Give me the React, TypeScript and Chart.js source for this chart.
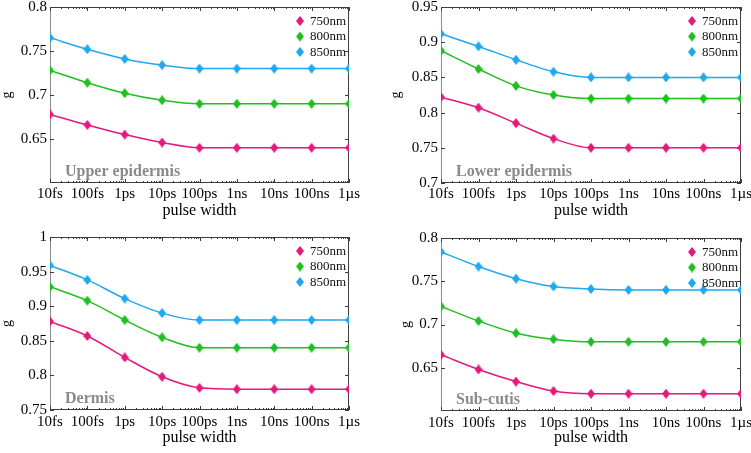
import React, { useEffect, useRef } from 'react';
import { Chart, registerables } from 'chart.js';

Chart.register(...registerables);

const FONT = '"Liberation Serif", "Times New Roman", serif';

const X_LABELS = ['10fs', '100fs', '1ps', '10ps', '100ps', '1ns', '10ns', '100ns', '1µs'];
const SERIES_NAMES = ['750nm', '800nm', '850nm'];
const SERIES_COLORS = ['#e6187c', '#1fbf1f', '#1ea8ef'];

// Upper epidermis
const upper750 = [0.678, 0.666, 0.655, 0.646, 0.640, 0.640, 0.640, 0.640, 0.640];
const upper800 = [0.728, 0.714, 0.702, 0.694, 0.690, 0.690, 0.690, 0.690, 0.690];
const upper850 = [0.765, 0.752, 0.741, 0.734, 0.730, 0.730, 0.730, 0.730, 0.730];
const upperTicks = [0.65, 0.7, 0.75, 0.8];

// Lower epidermis
const lower750 = [0.822, 0.807, 0.785, 0.763, 0.750, 0.750, 0.750, 0.750, 0.750];
const lower800 = [0.888, 0.862, 0.838, 0.825, 0.820, 0.820, 0.820, 0.820, 0.820];
const lower850 = [0.912, 0.894, 0.875, 0.858, 0.850, 0.850, 0.850, 0.850, 0.850];
const lowerTicks = [0.7, 0.75, 0.8, 0.85, 0.9, 0.95];

// Dermis
const dermis750 = [0.878, 0.857, 0.826, 0.798, 0.782, 0.780, 0.780, 0.780, 0.780];
const dermis800 = [0.928, 0.908, 0.880, 0.855, 0.840, 0.840, 0.840, 0.840, 0.840];
const dermis850 = [0.959, 0.938, 0.911, 0.890, 0.880, 0.880, 0.880, 0.880, 0.880];
const dermisTicks = [0.75, 0.8, 0.85, 0.9, 0.95, 1];

// Sub-cutis
const sub750 = [0.665, 0.648, 0.634, 0.623, 0.620, 0.620, 0.620, 0.620, 0.620];
const sub800 = [0.721, 0.704, 0.690, 0.683, 0.680, 0.680, 0.680, 0.680, 0.680];
const sub850 = [0.784, 0.767, 0.753, 0.744, 0.741, 0.740, 0.740, 0.740, 0.740];
const subTicks = [0.65, 0.7, 0.75, 0.8];

type PanelDef = {
  title: string;
  series: number[][];
  yMin: number;
  yMax: number;
  yTicks: number[];
  left: number;
  top: number;
  w: number;
  h: number;
  area: { l: number; t: number; r: number; b: number };
  gX: number;
  xPad: number;
};

const PANELS: PanelDef[] = [
  { title: 'Upper epidermis', series: [upper750, upper800, upper850], yMin: 0.6, yMax: 0.8, yTicks: upperTicks,
    left: 0, top: 0, w: 375, h: 226, area: { l: 50, t: 7, r: 349, b: 183 }, gX: 7, xPad: 2 },
  { title: 'Lower epidermis', series: [lower750, lower800, lower850], yMin: 0.7, yMax: 0.95, yTicks: lowerTicks,
    left: 375, top: 0, w: 376, h: 226, area: { l: 66, t: 7, r: 366, b: 183 }, gX: 21, xPad: 2 },
  { title: 'Dermis', series: [dermis750, dermis800, dermis850], yMin: 0.75, yMax: 1, yTicks: dermisTicks,
    left: 0, top: 226, w: 375, h: 227, area: { l: 50, t: 11, r: 349, b: 184 }, gX: 7, xPad: 3 },
  { title: 'Sub-cutis', series: [sub750, sub800, sub850], yMin: 0.6, yMax: 0.8, yTicks: subTicks,
    left: 375, top: 226, w: 376, h: 227, area: { l: 66, t: 12, r: 366, b: 185 }, gX: 31, xPad: 3 },
];

function makeDiamond(color: string): HTMLCanvasElement {
  const c = document.createElement('canvas');
  c.width = 8;
  c.height = 10;
  const ctx = c.getContext('2d')!;
  ctx.fillStyle = color;
  ctx.beginPath();
  ctx.moveTo(4, 0);
  ctx.lineTo(8, 5);
  ctx.lineTo(4, 10);
  ctx.lineTo(0, 5);
  ctx.closePath();
  ctx.fill();
  return c;
}

function Panel({ def }: { def: PanelDef }) {
  const ref = useRef<HTMLCanvasElement>(null);

  useEffect(() => {
    const canvas = ref.current!;
    const markers = SERIES_COLORS.map(makeDiamond);

    const framePlugin = {
      id: 'frame' + def.title.replace(/\W/g, ''),
      beforeDatasetsDraw(chart: any) {
        const { ctx, chartArea } = chart;
        const { left, top, right, bottom } = chartArea;
        const xs = chart.scales.x;
        const ys = chart.scales.y;
        const line = (x1: number, y1: number, x2: number, y2: number) => {
          ctx.beginPath();
          ctx.moveTo(x1, y1);
          ctx.lineTo(x2, y2);
          ctx.stroke();
        };
        ctx.save();
        ctx.lineWidth = 1;
        ctx.strokeStyle = '#3c3c3c';
        line(left, top + 0.5, right, top + 0.5);
        line(right - 0.5, top, right - 0.5, bottom);
        line(left, bottom - 0.5, right, bottom - 0.5);
        ctx.strokeStyle = '#8c8c8c';
        line(left + 0.5, top, left + 0.5, bottom);
        ctx.strokeStyle = '#3c3c3c';
        def.yTicks.forEach((t) => {
          const py = Math.round(ys.getPixelForValue(t)) + 0.5;
          line(left, py, left + 4, py);
          line(right - 4, py, right, py);
        });
        X_LABELS.forEach((_, i) => {
          const px = Math.round(xs.getPixelForValue(i)) + 0.5;
          line(px, bottom, px, bottom - 4);
          line(px, top, px, top + 4);
          if (i < X_LABELS.length - 1) {
            for (let k = 2; k <= 9; k++) {
              const mx = Math.round(xs.getPixelForValue(i + Math.log10(k))) + 0.5;
              line(mx, bottom, mx, bottom - 2);
              line(mx, top, mx, top + 2);
            }
          }
        });
        ctx.restore();
      },
      afterDatasetsDraw(chart: any) {
        const { ctx, chartArea } = chart;
        const { left, top, right, bottom } = chartArea;
        ctx.save();
        // legend
        const rows = [14, 29.5, 45];
        ctx.font = `13px ${FONT}`;
        ctx.textAlign = 'left';
        ctx.textBaseline = 'middle';
        ctx.fillStyle = '#111';
        SERIES_NAMES.forEach((name, i) => {
          const y = top + rows[i];
          const m = markers[i];
          ctx.drawImage(m, right - 49 - m.width / 2, y - m.height / 2);
          ctx.fillText(name, right - 39, y + 0.5);
        });
        // panel annotation
        ctx.font = `bold 16px ${FONT}`;
        ctx.fillStyle = '#8a8a8a';
        ctx.fillText(def.title, left + 15, bottom - 11);
        ctx.restore();
      },
    };

    const chart = new Chart(canvas, {
      type: 'line',
      data: {
        datasets: def.series.map((vals, i) => ({
          label: SERIES_NAMES[i],
          data: vals.map((v, j) => ({ x: j, y: v })),
          borderColor: SERIES_COLORS[i],
          backgroundColor: SERIES_COLORS[i],
          borderWidth: 1.5,
          cubicInterpolationMode: 'monotone' as const,
          pointStyle: markers[i] as any,
          pointRadius: 4,
          fill: false,
        })),
      },
      options: {
        animation: false,
        responsive: false,
        devicePixelRatio: 1,
        events: [],
        layout: {
          padding: { left: 0, top: def.area.t, right: def.w - def.area.r, bottom: 0 },
        },
        plugins: {
          legend: { display: false },
          tooltip: { enabled: false },
        },
        scales: {
          x: {
            type: 'linear',
            min: 0,
            max: X_LABELS.length - 1,
            grid: { display: false, drawTicks: false },
            border: { display: false },
            ticks: {
              padding: def.xPad,
              color: '#000',
              font: { family: FONT, size: 15 },
              maxRotation: 0,
              autoSkip: false,
              callback: (v: any) => X_LABELS[Math.round(Number(v))] ?? '',
            },
            afterBuildTicks: (scale: any) => {
              scale.ticks = X_LABELS.map((_, i) => ({ value: i }));
            },
            afterFit: (scale: any) => {
              scale.height = def.h - def.area.b;
              scale.paddingLeft = 0;
              scale.paddingRight = 0;
            },
            title: {
              display: true,
              text: 'pulse width',
              color: '#000',
              font: { family: FONT, size: 16, lineHeight: 1.2 },
              padding: { top: 0, bottom: 6 },
            },
          },
          y: {
            type: 'linear',
            min: def.yMin,
            max: def.yMax,
            grid: { display: false, drawTicks: false },
            border: { display: false },
            ticks: {
              padding: 3,
              color: '#000',
              font: { family: FONT, size: 15 },
              callback: (v: any) => String(Math.round(Number(v) * 100) / 100),
            },
            afterBuildTicks: (scale: any) => {
              scale.ticks = def.yTicks.map((t) => ({ value: t }));
            },
            afterFit: (scale: any) => {
              scale.width = def.area.l;
              scale.paddingTop = 0;
              scale.paddingBottom = 0;
            },
            title: {
              display: true,
              text: 'g',
              color: '#000',
              font: { family: FONT, size: 14, lineHeight: 1 },
              padding: { top: def.gX - 7, bottom: 0 },
            },
          },
        },
      },
      plugins: [framePlugin],
    } as any);

    return () => chart.destroy();
  }, [def]);

  return (
    <canvas
      ref={ref}
      width={def.w}
      height={def.h}
      style={{ position: 'absolute', left: def.left, top: def.top, width: def.w, height: def.h }}
    />
  );
}

export default function App() {
  return (
    <div style={{ position: 'absolute', left: 0, top: 0, width: 751, height: 453, background: '#fff', overflow: 'hidden' }}>
      {PANELS.map((p) => (
        <Panel key={p.title} def={p} />
      ))}
    </div>
  );
}
